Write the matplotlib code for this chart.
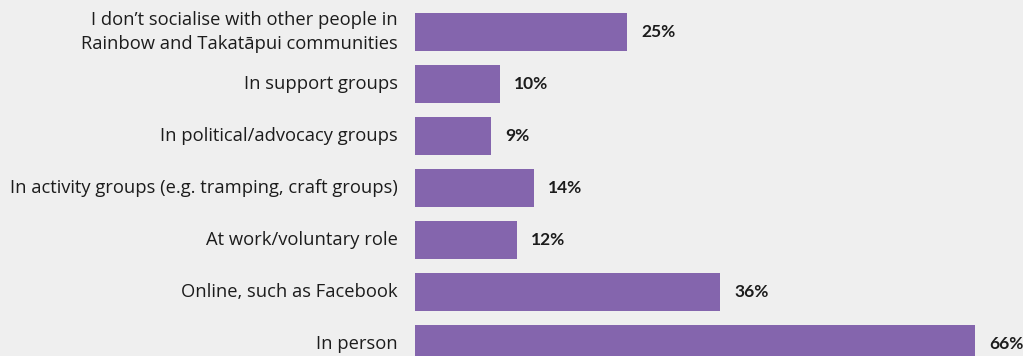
import matplotlib.pyplot as plt

# Where people socialise with others in Rainbow and Takatāpui communities
categories = [
    "I don\u2019t socialise with other people in\nRainbow and Takat\u0101pui communities",
    "In support groups",
    "In political/advocacy groups",
    "In activity groups (e.g. tramping, craft groups)",
    "At work/voluntary role",
    "Online, such as Facebook",
    "In person",
]
percent = [25, 10, 9, 14, 12, 36, 66]

BG = "#efefef"
BAR = "#8465ad"
INK = "#1c1c1c"

plt.rcParams["font.family"] = ["Open Sans", "DejaVu Sans"]

fig = plt.figure(figsize=(10.23, 3.56), dpi=100, facecolor=BG)
ax = fig.add_axes([415 / 1023, 0, 608 / 1023, 1])
ax.set_facecolor(BG)

ypos = list(range(len(categories)))
ax.barh(ypos, percent, height=0.73, color=BAR)

px = 66 / 560  # data units per pixel along x
ax.set_xlim(0, 608 * px)
ax.set_ylim(6.23, -0.615)

for y, label, v in zip(ypos, categories, percent):
    ax.text(-17 * px, y, label, ha="right", va="center", fontsize=13.25,
            color=INK, linespacing=1.45, clip_on=False)
    ax.text(v + 14 * px, y, f"{v}%", ha="left", va="center", fontsize=12.5,
            fontweight="bold", family=["Lato", "DejaVu Sans"], color=INK,
            clip_on=False)

ax.axis("off")
fig.savefig("out.png", dpi=100, facecolor=BG)
